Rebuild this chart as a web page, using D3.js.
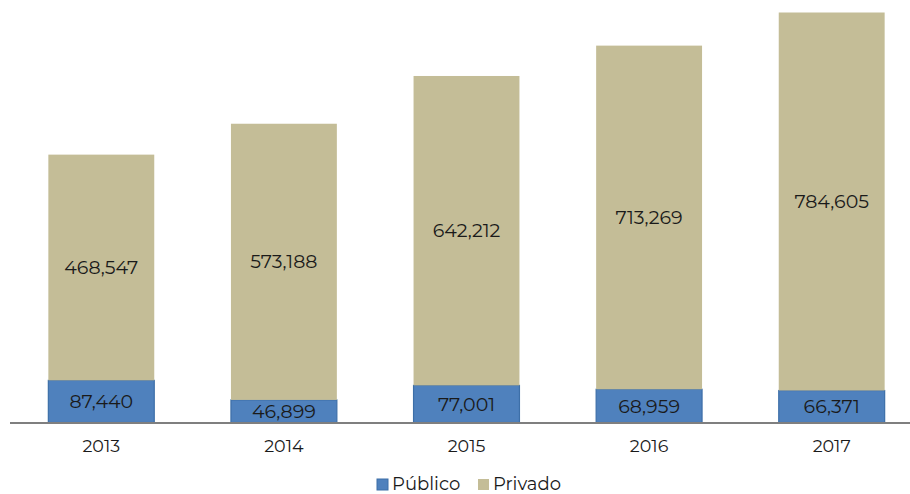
<!DOCTYPE html>
<html><head><meta charset="utf-8">
<script src="https://cdn.jsdelivr.net/npm/d3@7"></script>
<style>body{margin:0;background:#fff}svg{display:block}</style>
</head><body>
<svg id="c" width="910" height="494"></svg>
<script>
const years = ["2013","2014","2015","2016","2017"];
const publico = [87440, 46899, 77001, 68959, 66371];
const privado = [468547, 573188, 642212, 713269, 784605];
const seriesNames = ["Público","Privado"];
const colors = ["#4f81bd","#c4bd97"];
const strokes = ["#3d6fa8","#c4bd97"];

const svg = d3.select("#c");
const font = "Montserrat, 'Open Sans', 'DejaVu Sans', sans-serif";
const x = d3.scaleBand().domain(years).range([10, 923]).paddingInner(0.42).paddingOuter(0.21);
const y = d3.scaleLinear().domain([0, 850976]).range([422.5, 12.5]);

const data = years.map((yr,i)=>({year:yr, "Público":publico[i], "Privado":privado[i]}));
const stack = d3.stack().keys(seriesNames)(data);
const fmt = d3.format(",");

stack.forEach((layer,si)=>{
  const g = svg.append("g");
  g.selectAll("rect").data(layer).join("rect")
    .attr("x", d=>x(d.data.year)).attr("width", x.bandwidth())
    .attr("y", d=>y(d[1])).attr("height", d=>y(d[0])-y(d[1]))
    .attr("fill", colors[si]).attr("stroke", strokes[si]).attr("stroke-width", si===0?1.2:0);
  g.selectAll("text").data(layer).join("text")
    .attr("x", d=>x(d.data.year)+x.bandwidth()/2)
    .attr("y", d=>(y(d[0])+y(d[1]))/2)
    .attr("dy","0.35em").attr("text-anchor","middle")
    .attr("font-family", font).attr("font-size", 19).attr("fill","#1a1a1a")
    .text(d=>fmt(d[1]-d[0]));
});

// axis
svg.append("line").attr("x1",10).attr("x2",910).attr("y1",423).attr("y2",423)
  .attr("stroke","#7f7f7f").attr("stroke-width",2);
svg.append("g").selectAll("text").data(years).join("text")
  .attr("x", d=>x(d)+x.bandwidth()/2).attr("y", 446).attr("dy","0.35em")
  .attr("text-anchor","middle").attr("font-family", font).attr("font-size", 17.5).attr("fill","#1a1a1a")
  .text(d=>d);

// legend
const lg = svg.append("g");
const items = [{n:"Público",x:377},{n:"Privado",x:478}];
items.forEach((it,i)=>{
  lg.append("rect").attr("x",it.x).attr("y",479).attr("width",11).attr("height",11)
    .attr("fill",colors[i]).attr("stroke",strokes[i]).attr("stroke-width",i===0?1:0);
  lg.append("text").attr("x",it.x+15).attr("y",489.5)
    .attr("font-family",font).attr("font-size",18).attr("fill","#1a1a1a").text(it.n);
});
</script>
</body></html>
